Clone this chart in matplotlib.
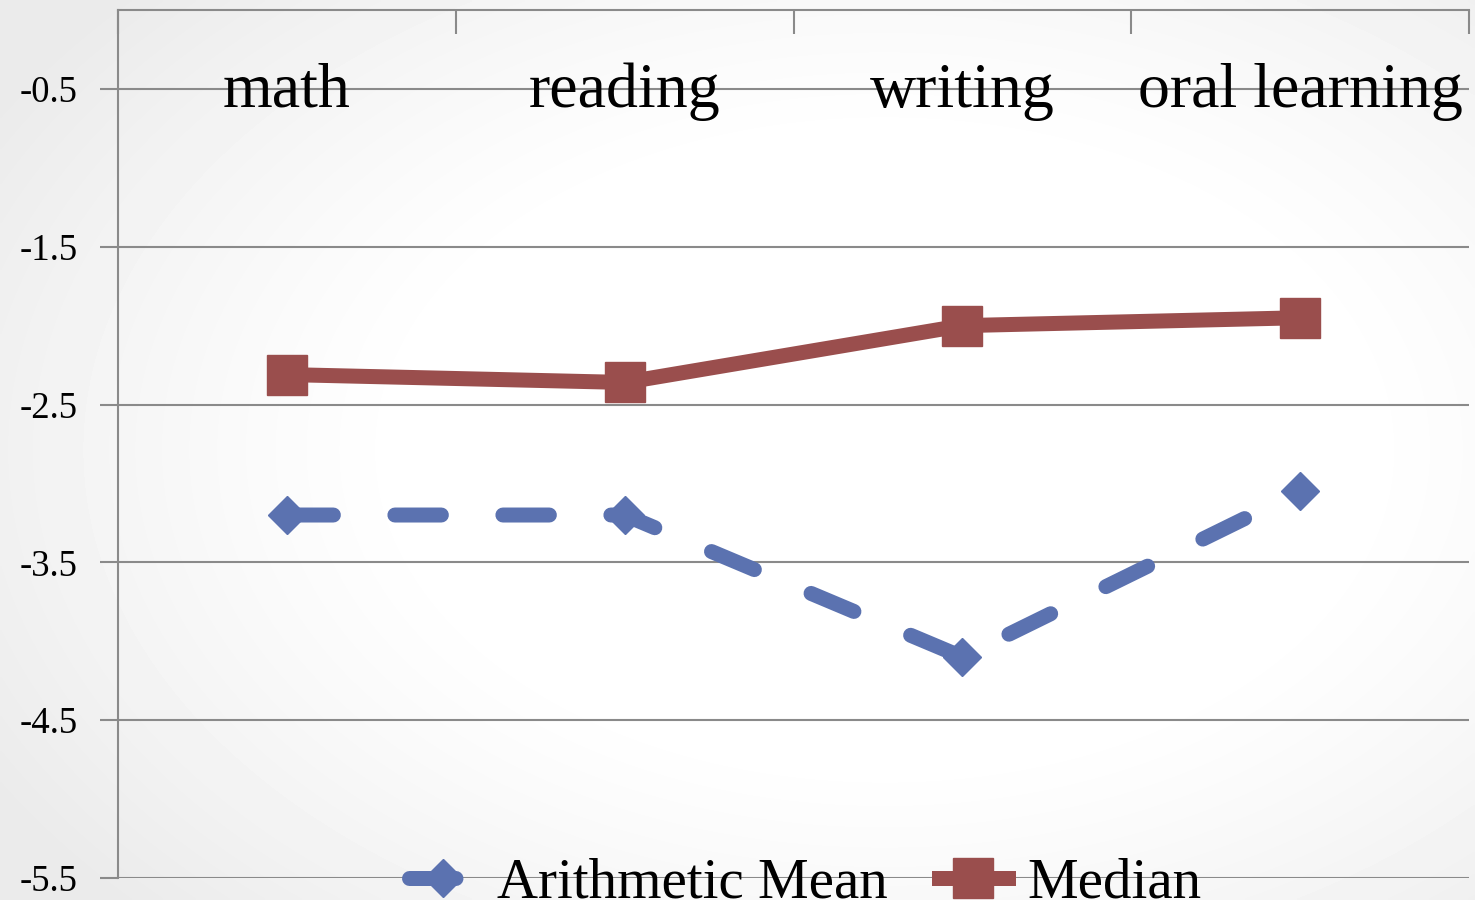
import matplotlib.pyplot as plt
import matplotlib.transforms as mtransforms
import numpy as np

categories = ['math', 'reading', 'writing', 'oral learning']
mean_vals = [-3.2, -3.2, -4.1, -3.05]
median_vals = [-2.31, -2.36, -2.0, -1.95]
yticks = [-0.5, -1.5, -2.5, -3.5, -4.5, -5.5]

blue = '#5b72b0'
red = '#9a4e4d'
grid_c = '#8a8a8a'
serif = ['Liberation Serif', 'DejaVu Serif']

fig = plt.figure(figsize=(14.75, 9), dpi=100)

# soft radial backdrop behind everything
bg = fig.add_axes([0, 0, 1, 1], zorder=-10)
yy, xx = np.mgrid[0:1:300j, 0:1:490j]
r = np.sqrt(((xx - 0.6) / 0.7) ** 2 + ((yy - 0.5) / 0.75) ** 2)
shade = 1 - 0.08 * np.clip((r - 0.45) / 0.55, 0, 1) ** 1.2
bg.imshow(shade, cmap='gray', vmin=0, vmax=1, aspect='auto', interpolation='bilinear')
bg.axis('off')

ax = fig.add_axes([118 / 1475, 22 / 900, 1351 / 1475, 868 / 900])
ax.patch.set_alpha(0)
x = np.arange(len(categories))

ax.plot(x, median_vals, color=red, lw=10.8, marker='s', ms=29, mec=red,
        solid_joinstyle='miter', label='Median', zorder=3)
ax.plot(x, mean_vals, color=blue, lw=10.8, marker='D', ms=19, mec=blue,
        dashes=(3.1, 4.1), dash_capstyle='round', label='Arithmetic Mean', zorder=4)

ax.set_xlim(-0.5, len(categories) - 0.5)
ax.set_ylim(-5.5, 0)
ax.set_yticks(yticks)
ax.set_yticklabels([f'{v:g}' for v in yticks], family=serif, fontsize=26.5)
ax.tick_params(axis='y', length=13, width=1.5, color=grid_c, pad=16)

# category separators as ticks hanging from the top edge
ax.xaxis.tick_top()
ax.set_xticks(np.arange(-0.5, len(categories), 1.0))
ax.set_xticklabels([])
ax.tick_params(axis='x', direction='in', length=17, width=1.5, color=grid_c)

ax.grid(axis='y', color=grid_c, lw=1.5)
ax.set_axisbelow(True)
for side in ['right', 'bottom']:
    ax.spines[side].set_visible(False)
for side in ['left', 'top']:
    ax.spines[side].set_color(grid_c)
    ax.spines[side].set_linewidth(1.5)

# category names sit on the top gridline
name_tr = mtransforms.offset_copy(ax.transData, fig=fig, y=-18, units='dots')
for i, name in enumerate(categories):
    ax.text(i, -0.5, name, ha='center', va='baseline', family=serif,
            fontsize=46, zorder=5, transform=name_tr)

handles, labels = ax.get_legend_handles_labels()
fig.legend(handles[::-1], labels[::-1], loc='center', bbox_to_anchor=(0.546, 16 / 900),
           ncol=2, frameon=False, prop={'family': serif, 'size': 41},
           handlelength=1.2, handletextpad=0.35, columnspacing=0.9, borderpad=0)

fig.savefig('out.png', dpi=100)
